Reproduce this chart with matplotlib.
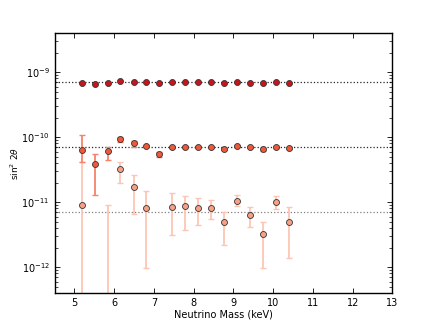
import numpy as np
import matplotlib
matplotlib.use("Agg")
import matplotlib.pyplot as plt

masses = [5.19, 5.51, 5.84, 6.16, 6.49, 6.81, 7.14, 7.46, 7.79, 8.11, 8.44,
          8.76, 9.09, 9.41, 9.74, 10.06, 10.39]

top_vals = [6.9e-10, 6.5e-10, 6.9e-10, 7.2e-10, 7.0e-10, 7.0e-10, 6.9e-10, 7.0e-10,
            7.0e-10, 7.0e-10, 7.0e-10, 6.9e-10, 7.0e-10, 6.9e-10, 6.9e-10, 7.0e-10, 6.9e-10]

mid_vals = [6.3e-11, 3.9e-11, 6.1e-11, 9.3e-11, 8.1e-11, 7.3e-11, 5.5e-11, 7.1e-11,
            7.1e-11, 7.1e-11, 7.1e-11, 6.6e-11, 7.4e-11, 7.0e-11, 6.5e-11, 7.1e-11, 6.8e-11]
mid_hi = [1.07e-10, 5.5e-11, 7.1e-11, 1.0e-10, 8.8e-11, 7.6e-11, 6.0e-11, 7.4e-11,
          7.4e-11, 7.4e-11, 7.4e-11, 6.9e-11, 7.7e-11, 7.3e-11, 6.8e-11, 7.4e-11, 7.1e-11]
mid_lo = [4.2e-11, 1.29e-11, 4.5e-11, 8.3e-11, 7.0e-11, 7.0e-11, 4.9e-11, 6.8e-11,
          6.8e-11, 6.8e-11, 6.8e-11, 6.3e-11, 7.1e-11, 6.7e-11, 6.2e-11, 6.8e-11, 6.5e-11]

bot_vals = [9.1e-12, np.nan, 2.0e-13, 3.2e-11, 1.7e-11, 8.1e-12, np.nan, 8.5e-12,
            8.7e-12, 8.1e-12, 8.1e-12, 4.9e-12, 1.05e-11, 6.4e-12, 3.2e-12, 1.02e-11, 5.0e-12]
bot_hi = [4.2e-11, np.nan, 8.9e-12, 4.2e-11, 2.6e-11, 1.5e-11, np.nan, 1.4e-11,
          1.26e-11, 1.16e-11, 1.07e-11, 7.0e-12, 1.27e-11, 8.4e-12, 4.9e-12, 1.24e-11, 8.4e-12]
bot_lo = [1.0e-13, np.nan, 1.0e-13, 2.0e-11, 6.6e-12, 9.8e-13, np.nan, 3.1e-12,
          3.7e-12, 4.5e-12, 5.5e-12, 2.2e-12, 8.7e-12, 4.2e-12, 9.8e-13, 7.9e-12, 1.37e-12]

ref_levels = [7e-10, 7e-11, 7e-12]
ref_colors = ["0.15", "0.15", "0.5"]

plt.rcParams["font.family"] = "DejaVu Sans"
plt.rcParams["font.size"] = 7
plt.rcParams["mathtext.fontset"] = "dejavusans"

fig = plt.figure(figsize=(4.36, 3.27), dpi=100)
ax = fig.add_axes([0.125, 0.104, 0.775, 0.795])

for lvl, c in zip(ref_levels, ref_colors):
    ax.axhline(lvl, color=c, ls=":", lw=0.9, zorder=1)

x = np.array(masses)

def draw(vals, lo, hi, color, ecolor):
    v = np.array(vals, dtype=float)
    lo = np.array(lo, dtype=float)
    hi = np.array(hi, dtype=float)
    m = ~np.isnan(v)
    yerr = np.vstack([v[m] - lo[m], hi[m] - v[m]])
    ax.errorbar(x[m], v[m], yerr=yerr, fmt="none", ecolor=ecolor, elinewidth=1.3,
                capsize=2, capthick=1.0, zorder=2)
    ax.plot(x[m], v[m], "o", ms=4.3, mfc=color, mec="0.2", mew=0.6, zorder=3)

draw(bot_vals, bot_lo, bot_hi, "#f7a086", "#fcc6b4")
draw(mid_vals, mid_lo, mid_hi, "#f0583a", "#f4836c")
ax.plot(x, top_vals, "o", ms=4.3, mfc="#c8151d", mec="0.2", mew=0.6, zorder=3)

ax.set_yscale("log")
ax.set_xlim(4.5, 13)
ax.set_ylim(4e-13, 4e-9)
ax.set_xticks(range(5, 14))
ax.tick_params(which="both", direction="in", top=True, right=True, labelsize=7)
ax.tick_params(which="major", length=3.5, width=0.6)
ax.tick_params(which="minor", length=2, width=0.5)
for s in ax.spines.values():
    s.set_linewidth(1.0)

ax.set_xlabel("Neutrino Mass (keV)", fontsize=7, labelpad=1)
ax.set_ylabel(r"$\sin^2\,2\theta$", fontsize=6.5)
ax.yaxis.set_label_coords(-0.1, 0.5)

fig.savefig("out.png", dpi=100)
